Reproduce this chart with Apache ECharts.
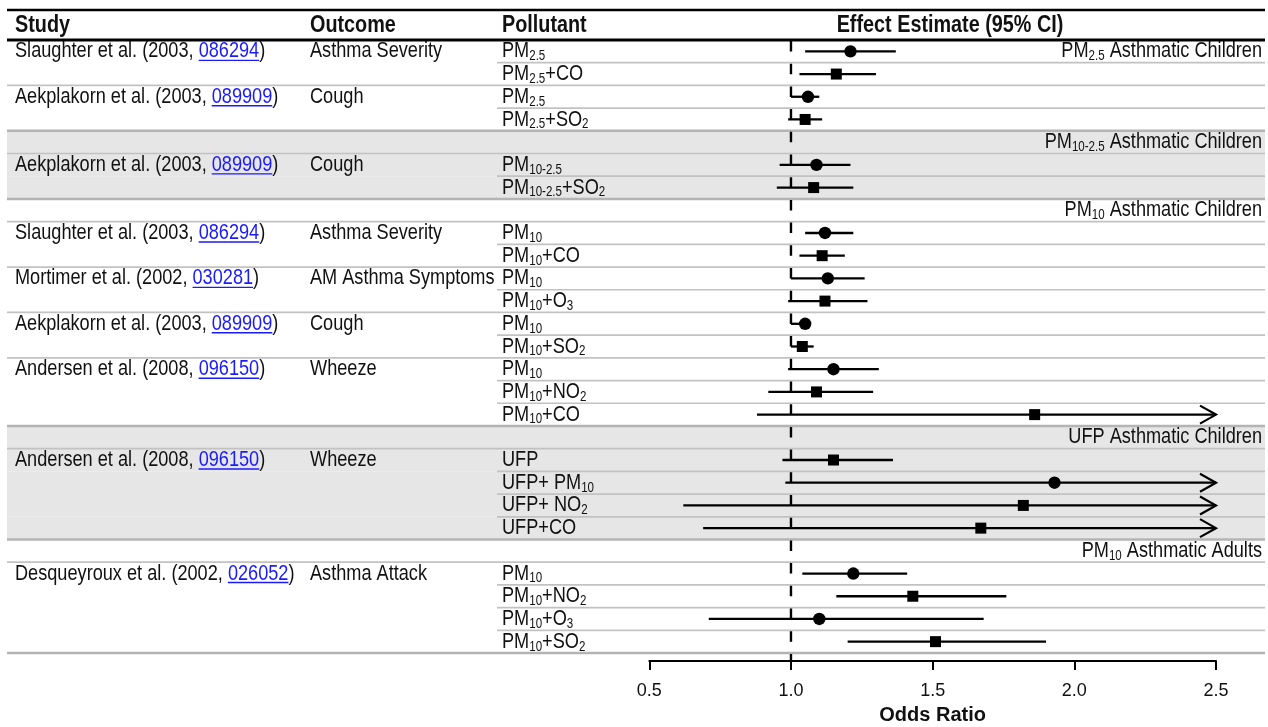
<!DOCTYPE html>
<html>
<head>
<meta charset="utf-8">
<title>Odds ratios for respiratory symptoms in asthmatics</title>
<script src="https://cdn.jsdelivr.net/npm/echarts@6.0.0/dist/echarts.min.js"></script>
<style>
  html, body { margin: 0; padding: 0; background: #fff; }
  #chart { width: 1268px; height: 727px; }
</style>
</head>
<body>
<div id="chart"></div>
<script>
// ---------------------------------------------------------------------------
// Data: one entry per table row (group title rows have empty cells)
// ---------------------------------------------------------------------------
const tickLabels = ['0.5', '1.0', '1.5', '2.0', '2.5'];
const nullEffect = 1.0;
const headerLabels = ['Study', 'Outcome', 'Pollutant', 'Effect Estimate (95% CI)'];
const axisTitle = 'Odds Ratio';

const studyAuthors = [
  'Slaughter et al.', '', 'Aekplakorn et al.', '',
  '', 'Aekplakorn et al.', '',
  '', 'Slaughter et al.', '', 'Mortimer et al.', '', 'Aekplakorn et al.', '', 'Andersen et al.', '', '',
  '', 'Andersen et al.', '', '', '',
  '', 'Desqueyroux et al.', '', '', ''
];
const studyYears = [
  '2003', '', '2003', '',
  '', '2003', '',
  '', '2003', '', '2002', '', '2003', '', '2008', '', '',
  '', '2008', '', '', '',
  '', '2002', '', '', ''
];
const studyRefs = [
  '086294', '', '089909', '',
  '', '089909', '',
  '', '086294', '', '030281', '', '089909', '', '096150', '', '',
  '', '096150', '', '', '',
  '', '026052', '', '', ''
];
const outcomes = [
  'Asthma Severity', '', 'Cough', '',
  '', 'Cough', '',
  '', 'Asthma Severity', '', 'AM Asthma Symptoms', '', 'Cough', '', 'Wheeze', '', '',
  '', 'Wheeze', '', '', '',
  '', 'Asthma Attack', '', '', ''
];
// text between ~ marks is set as a subscript
const pollutants = [
  'PM~2.5~', 'PM~2.5~+CO', 'PM~2.5~', 'PM~2.5~+SO~2~',
  '', 'PM~10-2.5~', 'PM~10-2.5~+SO~2~',
  '', 'PM~10~', 'PM~10~+CO', 'PM~10~', 'PM~10~+O~3~', 'PM~10~', 'PM~10~+SO~2~', 'PM~10~', 'PM~10~+NO~2~', 'PM~10~+CO',
  '', 'UFP', 'UFP+ PM~10~', 'UFP+ NO~2~', 'UFP+CO',
  '', 'PM~10~', 'PM~10~+NO~2~', 'PM~10~+O~3~', 'PM~10~+SO~2~'
];
const oddsRatios = [
  1.21, 1.16, 1.06, 1.05,
  null, 1.09, 1.08,
  null, 1.12, 1.11, 1.13, 1.12, 1.05, 1.04, 1.15, 1.09, 1.86,
  null, 1.15, 1.93, 1.82, 1.67,
  null, 1.22, 1.43, 1.10, 1.51
];
const ciLower = [
  1.05, 1.03, 1.00, 0.99,
  null, 0.96, 0.95,
  null, 1.05, 1.03, 1.00, 0.99, 1.00, 1.00, 0.99, 0.92, 0.88,
  null, 0.97, 0.98, 0.62, 0.69,
  null, 1.04, 1.16, 0.71, 1.20
];
// Infinity: upper bound runs past the end of the axis (drawn with an arrow)
const ciUpper = [
  1.37, 1.30, 1.10, 1.11,
  null, 1.21, 1.22,
  null, 1.22, 1.19, 1.26, 1.27, 1.07, 1.08, 1.31, 1.29, Infinity,
  null, 1.36, Infinity, Infinity, Infinity,
  null, 1.41, 1.76, 1.68, 1.90
];
const markerShapes = [
  'circle', 'square', 'circle', 'square',
  '', 'circle', 'square',
  '', 'circle', 'square', 'circle', 'square', 'circle', 'square', 'circle', 'square', 'square',
  '', 'square', 'circle', 'square', 'square',
  '', 'circle', 'square', 'circle', 'square'
];

const groupRows = [0, 4, 7, 17, 22];
const groupTitles = [
  'PM~2.5~ Asthmatic Children',
  'PM~10-2.5~ Asthmatic Children',
  'PM~10~ Asthmatic Children',
  'UFP Asthmatic Children',
  'PM~10~ Asthmatic Adults'
];
const groupShaded = [false, true, false, true, false];

// ---------------------------------------------------------------------------
// Layout and style
// ---------------------------------------------------------------------------
const FONT = '"Liberation Sans", Arial, sans-serif';
const NARROW = 0.825;             // horizontal squeeze for the condensed table type
const INK = '#111';
const LINK = '#1a1aff';
const BAND = '#e6e6e6';
const RULE_L = 7, RULE_R = 1265;
const COL_STUDY = 15, COL_OUTCOME = 310, COL_POLLUTANT = 502, POLLUTANT_RULE = 497;
const GRID_TOP = 40, GRID_BOTTOM = 74, GRID_LEFT = 649.3, GRID_RIGHT = 52;
const AXIS_OFFSET = 8;
const TEXT_SIZE = 22;

const axisMin = parseFloat(tickLabels[0]);
const axisMax = parseFloat(tickLabels[tickLabels.length - 1]);
const axisStep = parseFloat(tickLabels[1]) - axisMin;
const rowCount = pollutants.length;

const richStyles = {
  n:  { fontFamily: FONT, fontSize: TEXT_SIZE, lineHeight: 24, fill: INK },
  s:  { fontFamily: FONT, fontSize: 14, lineHeight: 12, verticalAlign: 'bottom', fill: INK },
  g:  { fontFamily: FONT, fontSize: TEXT_SIZE, lineHeight: 24, fill: INK },
  gs: { fontFamily: FONT, fontSize: 14, lineHeight: 18, verticalAlign: 'bottom', fill: INK },
  l:  { fontFamily: FONT, fontSize: TEXT_SIZE, lineHeight: 24, fill: LINK }
};

const measureCtx = document.createElement('canvas').getContext('2d');
function textWidth(str, size) {
  measureCtx.font = size + 'px ' + FONT;
  return measureCtx.measureText(str).width * NARROW;
}

// "PM~2.5~+CO" -> "{n|PM}{s|2.5}{n|+CO}"
function toRich(label, base, sub) {
  return label.split('~')
    .map((part, k) => part ? '{' + (k % 2 ? sub : base) + '|' + part + '}' : '')
    .join('');
}

function groupIndexOf(row) {
  let g = 0;
  groupRows.forEach((r, k) => { if (row >= r) g = k; });
  return g;
}

function cellText(x, y, text, align) {
  return {
    type: 'text', z2: 2, x, y, scaleX: NARROW,
    style: { text, rich: richStyles, align: align || 'left', verticalAlign: 'middle' }
  };
}

// ---------------------------------------------------------------------------
// Table rows: band, separator rule and the text cells
// ---------------------------------------------------------------------------
function renderTableRow(params, api) {
  const row = api.value(1);
  const top = api.coord([axisMin, row])[1];
  const bottom = api.coord([axisMin, row + 1])[1];
  const mid = (top + bottom) / 2;
  const group = groupIndexOf(row);
  const children = [];

  if (groupShaded[group]) {
    children.push({
      type: 'rect', z2: 0,
      shape: { x: RULE_L, y: top, width: RULE_R - RULE_L, height: bottom - top },
      style: { fill: BAND }
    });
  }

  const next = row + 1;
  const groupEnds = next >= rowCount || groupRows.indexOf(next) >= 0;
  const sameStudy = !groupEnds && studyAuthors[next] === '';
  children.push({
    type: 'line', z2: 1,
    shape: { x1: sameStudy ? POLLUTANT_RULE : RULE_L, y1: bottom, x2: RULE_R, y2: bottom },
    style: { stroke: groupEnds ? '#b4b4b4' : '#c2c2c2', lineWidth: groupEnds ? 2.6 : 1.7 }
  });

  if (studyAuthors[row]) {
    const prefix = studyAuthors[row] + ' (' + studyYears[row] + ', ';
    children.push(cellText(COL_STUDY, mid, '{n|' + prefix + '}{l|' + studyRefs[row] + '}{n|)}'));
    const x0 = COL_STUDY + textWidth(prefix, TEXT_SIZE);
    const w = textWidth(studyRefs[row], TEXT_SIZE);
    children.push({
      type: 'line', z2: 2,
      shape: { x1: x0, y1: mid + 9, x2: x0 + w, y2: mid + 9 },
      style: { stroke: LINK, lineWidth: 1.4 }
    });
    children.push(cellText(COL_OUTCOME, mid, '{n|' + outcomes[row] + '}'));
  }

  if (pollutants[row]) {
    children.push(cellText(COL_POLLUTANT, mid, toRich(pollutants[row], 'n', 's')));
  }

  const titleIdx = groupRows.indexOf(row);
  if (titleIdx >= 0) {
    children.push(cellText(RULE_R - 3, mid, toRich(groupTitles[titleIdx], 'g', 'gs'), 'right'));
  }
  return { type: 'group', children };
}

// ---------------------------------------------------------------------------
// Confidence interval whiskers with point estimates
// ---------------------------------------------------------------------------
function renderInterval(params, api) {
  const est = api.value(0);
  const rowMid = api.value(1) + 0.5;
  const lo = api.value(2);
  const hi = api.value(3);
  const open = api.value(4);
  const shape = api.value(5);
  const [xe, y] = api.coord([est, rowMid]);
  const xl = api.coord([lo, rowMid])[0];
  const xh = api.coord([hi, rowMid])[0];
  const children = [{
    type: 'line',
    shape: { x1: xl, y1: y, x2: xh, y2: y },
    style: { stroke: '#000', lineWidth: 2.3 }
  }];
  if (open) {
    children.push({
      type: 'polyline',
      shape: { points: [[xh - 16, y - 9], [xh, y], [xh - 16, y + 9]] },
      style: { stroke: '#000', lineWidth: 2.2, fill: null }
    });
  }
  if (shape === 0) {
    children.push({ type: 'circle', shape: { cx: xe, cy: y, r: 6.2 }, style: { fill: '#000' } });
  } else {
    children.push({ type: 'rect', shape: { x: xe - 5.5, y: y - 5.5, width: 11, height: 11 }, style: { fill: '#000' } });
  }
  return { type: 'group', children };
}

// Dashed line of no effect, running down to the axis
function renderNullLine(params, api) {
  const [x, yTop] = api.coord([api.value(0), 0]);
  const yBottom = api.coord([api.value(0), rowCount])[1] + AXIS_OFFSET;
  return {
    type: 'line',
    shape: { x1: x, y1: yTop + 1, x2: x, y2: yBottom },
    style: { stroke: '#000', lineWidth: 2.4, lineDash: [10.5, 12.2] }
  };
}

const tableData = pollutants.map((_, i) => [axisMin, i]);
const intervalData = [];
oddsRatios.forEach((v, i) => {
  if (v === null) return;
  const open = !isFinite(ciUpper[i]);
  intervalData.push([v, i, ciLower[i], open ? axisMax : ciUpper[i], open ? 1 : 0, markerShapes[i] === 'circle' ? 0 : 1]);
});

const headerX = [COL_STUDY, COL_OUTCOME, COL_POLLUTANT, 950];
const headerAlign = ['left', 'left', 'left', 'center'];

const chart = echarts.init(document.getElementById('chart'), null, { renderer: 'canvas' });
chart.setOption({
  animation: false,
  backgroundColor: '#fff',
  grid: {
    left: GRID_LEFT, right: GRID_RIGHT, top: GRID_TOP, bottom: GRID_BOTTOM,
    containLabel: false, outerBoundsMode: 'none'
  },
  xAxis: {
    type: 'value', position: 'bottom', min: axisMin, max: axisMax, interval: axisStep, offset: AXIS_OFFSET,
    axisLine: { show: true, onZero: false, lineStyle: { color: '#000', width: 2 } },
    axisTick: { show: true, length: 9, lineStyle: { color: '#000', width: 2 } },
    axisLabel: {
      formatter: v => tickLabels[Math.round((v - axisMin) / axisStep)],
      fontFamily: FONT, fontSize: 18, color: INK, margin: 21
    },
    splitLine: { show: false },
    name: axisTitle, nameLocation: 'middle', nameGap: 44,
    nameTextStyle: { fontFamily: FONT, fontWeight: 'bold', fontSize: 20, color: INK }
  },
  yAxis: { type: 'value', min: 0, max: rowCount, inverse: true, show: false },
  graphic: [
    { type: 'line', shape: { x1: RULE_L, y1: 10, x2: RULE_R, y2: 10 }, style: { stroke: '#000', lineWidth: 2.6 } },
    { type: 'line', z: 20, shape: { x1: RULE_L, y1: GRID_TOP, x2: RULE_R, y2: GRID_TOP }, style: { stroke: '#000', lineWidth: 3 } }
  ].concat(headerLabels.map((t, k) => ({
    type: 'text', x: headerX[k], y: 25, scaleX: NARROW,
    style: {
      text: t, fill: INK, font: 'bold 24px ' + FONT,
      align: headerAlign[k], verticalAlign: 'middle'
    }
  }))),
  series: [
    { type: 'custom', name: 'table', z: 1, clip: false, silent: true, renderItem: renderTableRow, data: tableData },
    { type: 'custom', name: 'no effect', z: 2, clip: false, silent: true, renderItem: renderNullLine, data: [[nullEffect, 0]] },
    { type: 'custom', name: 'odds ratio', z: 3, clip: false, renderItem: renderInterval, data: intervalData }
  ]
});
</script>
</body>
</html>
